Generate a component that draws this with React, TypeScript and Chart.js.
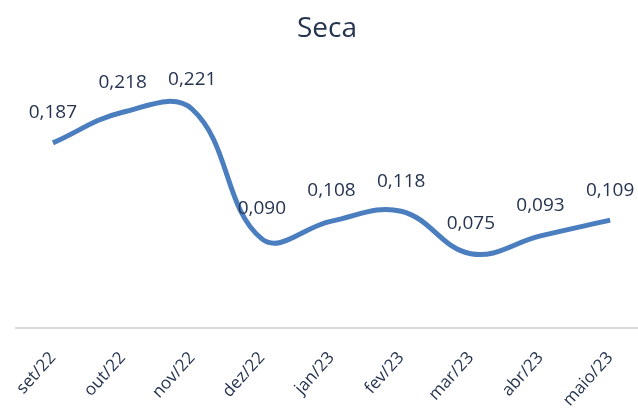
import React, { useEffect, useRef } from "react";
import { Chart, registerables } from "chart.js";

Chart.register(...registerables);

const categories = ["set/22", "out/22", "nov/22", "dez/22", "jan/23", "fev/23", "mar/23", "abr/23", "maio/23"];
const values = [0.187, 0.218, 0.221, 0.09, 0.108, 0.118, 0.075, 0.093, 0.109];
const titleText = "Seca";

const TEXT = "#263450";
const LINE = "#4a7ebf";

const dataLabels = {
  id: "dataLabels",
  afterDatasetsDraw(chart: any) {
    const { ctx } = chart;
    const meta = chart.getDatasetMeta(0);
    ctx.save();
    ctx.font = "19px 'Open Sans'";
    ctx.fillStyle = TEXT;
    ctx.textAlign = "center";
    ctx.textBaseline = "middle";
    meta.data.forEach((pt: any, i: number) => {
      const v = values[i];
      const s = v.toFixed(3).replace(".", ",");
      ctx.fillText(s, pt.x, pt.y - 30);
    });
    ctx.restore();
  },
};

export default function App() {
  const ref = useRef<HTMLCanvasElement>(null);
  useEffect(() => {
    document.body.style.margin = "0";
    const chart = new Chart(ref.current!, {
      type: "line",
      data: {
        datasets: [
          {
            data: values.map((v, i) => ({ x: i, y: v })),
            borderColor: LINE,
            borderWidth: 5,
            pointRadius: 0,
            tension: 0.4,
            fill: false,
          },
        ],
      },
      options: {
        animation: false,
        responsive: false,
        maintainAspectRatio: false,
        layout: { padding: { left: 16, right: 0, top: 10, bottom: 0 } },
        plugins: {
          legend: { display: false },
          tooltip: { enabled: false },
          title: {
            display: true,
            text: titleText,
            color: TEXT,
            font: { family: "'Open Sans'", size: 28, weight: "normal" },
            padding: { top: 2, bottom: 28 },
          },
        },
        scales: {
          x: {
            type: "linear",
            min: -0.53,
            max: 8.4,
            afterBuildTicks: (axis: any) => {
              axis.ticks = categories.map((_, i) => ({ value: i }));
            },
            afterFit: (axis: any) => {
              axis.height = 82;
            },
            grid: { display: false },
            border: { display: true, color: "#d9d9d9", width: 2 },
            ticks: {
              color: TEXT,
              font: { family: "'Open Sans'", size: 17 },
              minRotation: 48,
              maxRotation: 48,
              autoSkip: false,
              padding: 12,
              callback: (v: any) => categories[v as number] ?? "",
            },
          },
          y: {
            display: false,
            min: 0,
            max: 0.257,
          },
        },
      },
      plugins: [dataLabels],
    });
    return () => chart.destroy();
  }, []);
  return <canvas ref={ref} width={638} height={410} style={{ display: "block" }} />;
}
